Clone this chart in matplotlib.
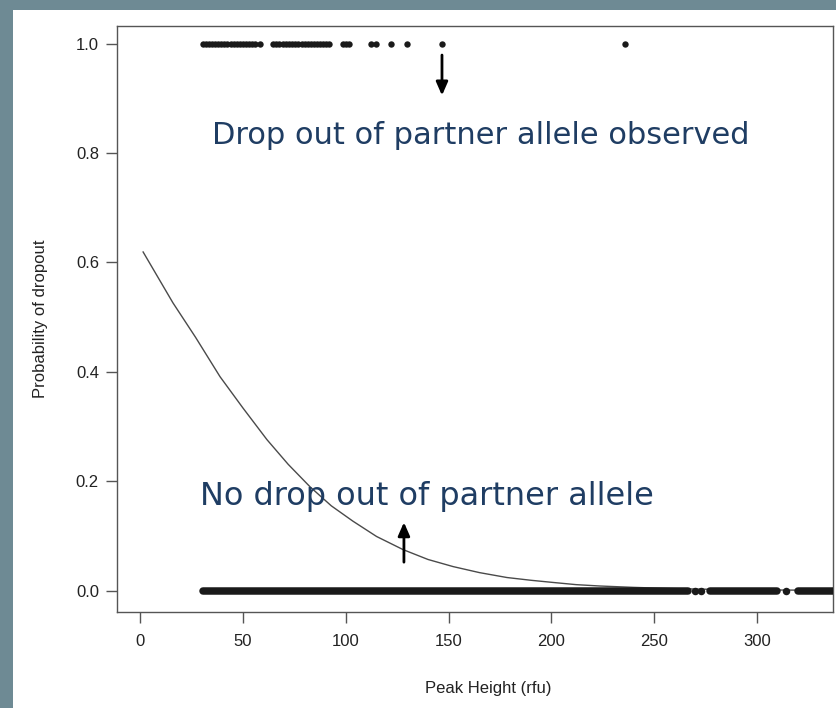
import matplotlib
matplotlib.use("Agg")
import matplotlib.pyplot as plt
from matplotlib.patches import Rectangle

# peaks whose partner allele dropped out (y = 1)
dropout_x = [30.6, 32, 33.5, 35, 36.5, 38, 39.5, 41, 42.5, 44, 45.5, 47, 48.5, 50, 51.5, 53, 54.5, 56, 58.3,
             64.7, 66.2, 67.7, 69.5, 71, 72.5, 74, 75.5, 77, 78.5, 80, 81.5, 83, 84.5, 86, 87.5, 89, 90.5, 91.9,
             98.7, 100.2, 101.6, 112.3, 114.7, 122, 129.8, 146.8, 235.8]

# peaks with no dropout (y = 0): too dense to read one by one, so the runs of overlapping dots
no_dropout_runs = [(30.6, 266.4), (277.1, 309.7), (319.9, 345.0)]
no_dropout_single = [269.8, 272.7, 314.0]

# fitted logistic curve
curve_x = [1.5, 16, 27, 38.9, 50, 61.7, 72, 82.6, 93, 103.5, 115, 127.9, 140, 152.2, 165, 178.4, 190, 200.8,
           212, 223.6, 240, 260, 280, 300, 337]
curve_y = [0.619, 0.526, 0.463, 0.391, 0.334, 0.276, 0.231, 0.19, 0.155, 0.127, 0.099, 0.075, 0.057, 0.044, 0.033,
           0.024, 0.019, 0.015, 0.011, 0.0085, 0.006, 0.0037, 0.0023, 0.0014, 0.0006]

x_ticks = [0, 50, 100, 150, 200, 250, 300]
y_ticks = [0.0, 0.2, 0.4, 0.6, 0.8, 1.0]

plt.rcParams['font.family'] = ['Liberation Sans', 'DejaVu Sans']

fig = plt.figure(figsize=(8.36, 7.08), dpi=100, facecolor='#6e8a94')
fig.patches.append(Rectangle((13 / 836, 0), 1, 1 - 10 / 708, transform=fig.transFigure,
                             facecolor='white', edgecolor='none', zorder=-10))

ax = fig.add_axes([117 / 836, 96 / 708, 716 / 836, 586 / 708])
ax.set_zorder(5)
ax.set_facecolor('white')

ax.plot(curve_x, curve_y, color='#4a4a4a', lw=1.0, zorder=2)
ax.plot(dropout_x, [1.0] * len(dropout_x), 'o', color='#1a1a1a', ms=4.6, mec='none', zorder=3)
for s, e in no_dropout_runs:
    ax.plot([s, e], [0, 0], color='#1a1a1a', lw=5.4, solid_capstyle='round', zorder=3)
ax.plot(no_dropout_single, [0] * len(no_dropout_single), 'o', color='#1a1a1a', ms=5.4, mec='none', zorder=3)

ax.set_xlim(-11.2, 336.9)
ax.set_ylim(-0.039, 1.032)
ax.set_xticks(x_ticks)
ax.set_yticks(y_ticks)
ax.set_yticklabels([f"{v:.1f}" for v in y_ticks])

for sp in ax.spines.values():
    sp.set_color('#555555')
    sp.set_linewidth(1.0)
ax.tick_params(length=8, width=1.0, color='#555555', labelsize=12, labelcolor='#222222', pad=5)
ax.tick_params(axis='x', pad=8)

ax.set_xlabel("Peak Height (rfu)", fontsize=12, color='#222222')
ax.set_ylabel("Probability of dropout", fontsize=12, color='#222222')
ax.xaxis.set_label_coords(0.518, -0.1186)
ax.yaxis.set_label_coords(-0.096, 0.5)

note_color = '#1f3d63'
ax.text(35, 0.832, "Drop out of partner allele observed", fontsize=22, color=note_color,
        family=['DejaVu Sans'], ha='left', va='center')
ax.text(29.2, 0.173, "No drop out of partner allele", fontsize=23, color=note_color,
        family=['DejaVu Sans'], ha='left', va='center')

ax.annotate("", xy=(146.8, 0.90), xytext=(146.8, 0.984),
            arrowprops=dict(arrowstyle='-|>,head_width=0.35,head_length=0.8', color='black', lw=2.0))
ax.annotate("", xy=(128.3, 0.13), xytext=(128.3, 0.047),
            arrowprops=dict(arrowstyle='-|>,head_width=0.35,head_length=0.8', color='black', lw=2.0))

fig.savefig("out.png", dpi=100, facecolor=fig.get_facecolor())
